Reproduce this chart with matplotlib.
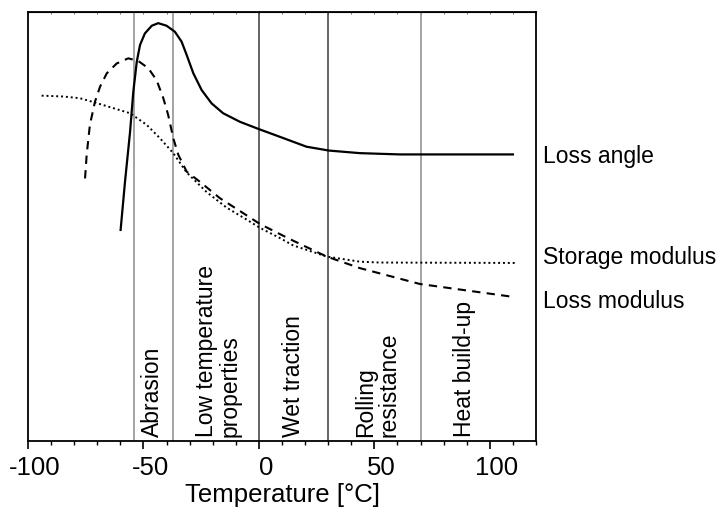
import matplotlib
matplotlib.use("Agg")
import matplotlib.pyplot as plt
from matplotlib.transforms import ScaledTranslation

plt.rcParams['font.family'] = ['Liberation Sans', 'DejaVu Sans']

# loss angle (tan delta) vs temperature
angle_t = [-59.9, -58.0, -55.8, -54.4, -52.9, -51.5, -49.4, -46.4, -43.6, -40.0, -36.4,
           -33.5, -31.3, -28.4, -24.8, -20.5, -15.5, -8.2, 0.0, 9.1, 20.6, 30.3,
           43.7, 61.0, 110.0]
angle_v = [49.2, 60.4, 72.1, 81.4, 88.4, 92.3, 95.0, 96.8, 97.4, 96.8, 95.4,
           93.1, 90.0, 85.7, 81.8, 78.7, 76.4, 74.4, 72.7, 70.9, 68.6, 67.7,
           67.1, 66.8, 66.8]

# loss modulus
loss_t = [-75.3, -74.6, -73.2, -71.0, -68.8, -65.9, -61.6, -56.6, -52.3, -47.9, -44.3,
          -41.4, -39.3, -37.1, -34.9, -31.3, -25.5, -16.9, -8.2, 0.4, 7.7, 14.8,
          29.3, 43.7, 69.7, 110.0]
loss_v = [61.2, 66.7, 73.7, 79.1, 82.6, 85.7, 88.0, 89.2, 88.6, 86.9, 84.1,
          79.9, 76.0, 70.6, 66.7, 62.8, 60.4, 56.6, 53.6, 50.6, 48.6, 46.7,
          43.0, 40.3, 36.6, 33.6]

# storage modulus
stor_t = [-94.1, -84.7, -77.5, -71.7, -63.1, -55.8, -48.6, -42.9, -37.1, -31.3,
          -22.6, -14.0, -5.3, 0.4, 9.1, 14.8, 29.3, 43.7, 52.4, 111.7]
stor_v = [80.5, 80.3, 79.9, 79.0, 77.6, 76.4, 73.7, 70.6, 67.1, 62.6,
          58.0, 54.4, 51.6, 49.7, 47.3, 45.6, 43.0, 41.8, 41.6, 41.5]

# application ranges
range_lines = [-54, -37, 0, 30, 70]
range_colors = ['#8a8a8a', '#8a8a8a', '#3a3a3a', '#3a3a3a', '#8a8a8a']
range_labels = ['Abrasion', 'Low temperature\nproperties', 'Wet traction',
                'Rolling\nresistance', 'Heat build-up']
label_x = [-45.9, -17.7, 14.9, 51.3, 89.2]

curve_names = ['Loss angle', 'Storage modulus', 'Loss modulus']
curve_name_y = [66.2, 42.7, 32.6]

major_ticks = [-100, -50, 0, 50, 100]
minor_ticks = list(range(-100, 121, 10))

fig = plt.figure(figsize=(7.22, 5.15), dpi=100)
ax = fig.add_axes([0.0388, 0.1437, 0.7036, 0.833])

for x, c in zip(range_lines, range_colors):
    ax.axvline(x, color=c, lw=1.1, zorder=1)

ax.plot(angle_t, angle_v, color='black', lw=1.6, zorder=3)
ax.plot(loss_t, loss_v, color='black', lw=1.5, linestyle=(0, (4, 3)), zorder=3)
ax.plot(stor_t, stor_v, color='black', lw=1.4, linestyle=(0, (1, 1.5)), zorder=3)

for x, txt in zip(label_x, range_labels):
    ax.text(x, 1.0, txt, rotation=90, ha='center', va='bottom',
            multialignment='left', fontsize=16.5, linespacing=1.05)

for y, txt in zip(curve_name_y, curve_names):
    ax.text(122.9, y, txt, ha='left', va='center', fontsize=16.5, clip_on=False)

ax.set_xlim(-100, 120)
ax.set_ylim(0, 100)
ax.set_yticks([])
ax.set_xticks(major_ticks, labels=[str(t) for t in major_ticks])
ax.set_xticks(minor_ticks, minor=True)
ax.tick_params(axis='x', which='major', length=6, width=1.2, direction='out',
               labelsize=18.5, pad=5)
ax.tick_params(axis='x', which='minor', length=3, width=1.0, direction='out')
ax.set_xlabel('Temperature [°C]', fontsize=18.5, labelpad=2)

# tick numbers sit a little right of their ticks
shift = ScaledTranslation(5 / 72, 0, fig.dpi_scale_trans)
for lbl in ax.get_xticklabels():
    lbl.set_transform(lbl.get_transform() + shift)

for s in ax.spines.values():
    s.set_linewidth(1.3)

# short inward ticks along the top edge
top = ax.secondary_xaxis('top')
top.set_xticks(minor_ticks, labels=[])
top.tick_params(axis='x', direction='in', length=1.5, width=0.6, colors='#555555')

fig.savefig('out.png', dpi=100)
